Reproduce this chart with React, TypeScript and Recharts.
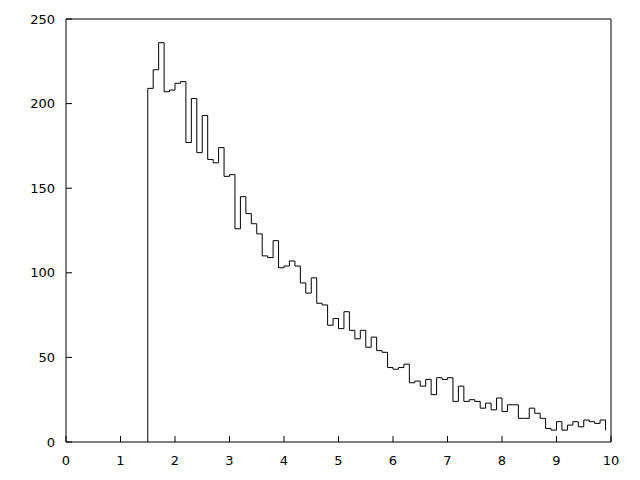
import { LineChart, Line, XAxis, YAxis } from "recharts";

// left edges of the 0.1-wide bins, plus the closing edge
const binEdges = [
  1.5, 1.6, 1.7, 1.8, 1.9, 2.0, 2.1, 2.2, 2.3, 2.4,
  2.5, 2.6, 2.7, 2.8, 2.9, 3.0, 3.1, 3.2, 3.3, 3.4,
  3.5, 3.6, 3.7, 3.8, 3.9, 4.0, 4.1, 4.2, 4.3, 4.4,
  4.5, 4.6, 4.7, 4.8, 4.9, 5.0, 5.1, 5.2, 5.3, 5.4,
  5.5, 5.6, 5.7, 5.8, 5.9, 6.0, 6.1, 6.2, 6.3, 6.4,
  6.5, 6.6, 6.7, 6.8, 6.9, 7.0, 7.1, 7.2, 7.3, 7.4,
  7.5, 7.6, 7.7, 7.8, 7.9, 8.0, 8.1, 8.2, 8.3, 8.4,
  8.5, 8.6, 8.7, 8.8, 8.9, 9.0, 9.1, 9.2, 9.3, 9.4,
  9.5, 9.6, 9.7, 9.8, 9.9,
];

const counts = [
  209, 220, 236, 207, 208, 212, 213, 177, 203, 171,
  193, 167, 165, 174, 157, 158, 126, 145, 135, 129,
  123, 110, 109, 119, 103, 104, 107, 104, 94, 88,
  97, 82, 81, 69, 73, 67, 77, 66, 61, 66,
  56, 62, 54, 53, 44, 43, 44, 46, 35, 36,
  33, 37, 28, 38, 37, 38, 24, 33, 24, 25,
  24, 20, 23, 19, 26, 18, 22, 22, 14, 14,
  20, 17, 14, 8, 7, 12, 7, 10, 12, 9,
  13, 12, 11, 13, 7,
];

const xTicks = [0, 1, 2, 3, 4, 5, 6, 7, 8, 9, 10];
const yTicks = [0, 50, 100, 150, 200, 250];

const data = [
  { x: binEdges[0], y: 0 },
  ...binEdges.map((x, i) => ({ x, y: counts[i] })),
];

const tickFont = { fontFamily: "DejaVu Sans", fontSize: 13, fill: "#000" };

export default function App() {
  return (
    <div style={{ position: "absolute", left: 0, top: 0, width: 640, height: 480, background: "#fff" }}>
      <LineChart
        width={640}
        height={480}
        data={data}
        margin={{ top: 18, right: 28, bottom: 0, left: 0 }}
      >
        <XAxis
          dataKey="x"
          type="number"
          domain={[0, 10]}
          ticks={xTicks}
          interval={0}
          height={38}
          tickSize={-6}
          tickMargin={20}
          tick={tickFont}
          axisLine={{ stroke: "#000" }}
          tickLine={{ stroke: "#000" }}
        />
        <XAxis
          xAxisId="top"
          orientation="top"
          type="number"
          domain={[0, 10]}
          ticks={xTicks}
          interval={0}
          height={1}
          tickSize={-6}
          tick={false}
          axisLine={{ stroke: "#000" }}
          tickLine={{ stroke: "#000" }}
        />
        <YAxis
          type="number"
          domain={[0, 250]}
          ticks={yTicks}
          interval={0}
          width={66}
          tickSize={-6}
          tickMargin={17}
          tick={tickFont}
          axisLine={{ stroke: "#000" }}
          tickLine={{ stroke: "#000" }}
        />
        <YAxis
          yAxisId="right"
          orientation="right"
          type="number"
          domain={[0, 250]}
          ticks={yTicks}
          interval={0}
          width={1}
          tickSize={-6}
          tick={false}
          axisLine={{ stroke: "#000" }}
          tickLine={{ stroke: "#000" }}
        />
        <Line
          type="stepAfter"
          dataKey="y"
          stroke="#000"
          strokeWidth={1}
          dot={false}
          activeDot={false}
          isAnimationActive={false}
        />
      </LineChart>
    </div>
  );
}
